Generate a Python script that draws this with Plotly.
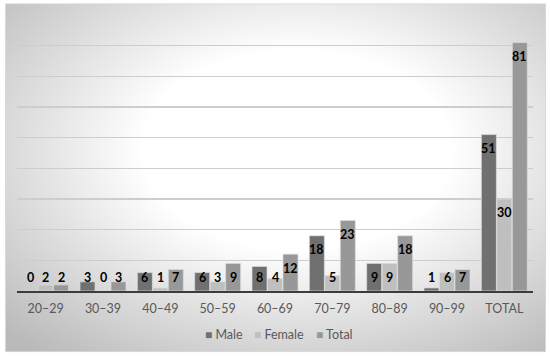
import base64
import plotly.graph_objects as go

categories = ["20–29", "30–39", "40–49", "50–59", "60–69", "70–79", "80–89", "90–99", "TOTAL"]
male = [0, 3, 6, 6, 8, 18, 9, 1, 51]
female = [2, 0, 1, 3, 4, 5, 9, 6, 30]
total = [2, 3, 7, 9, 12, 23, 18, 7, 81]
series_names = ["Male", "Female", "Total"]
series_colors = ["#707070", "#bfbfbf", "#989898"]

W, H = 550, 358
L, R, T, B = 17, 17, 15, 67
pw, ph = W - L - R, H - T - B

def px_to_paper_x(px):
    return (px - L) / pw

def px_to_paper_y(py):
    return (H - B - py) / ph

# background panel with radial gradient
svg = (
    "<svg xmlns='http://www.w3.org/2000/svg' width='541' height='349' viewBox='0 0 541 349' "
    "preserveAspectRatio='none'><defs><radialGradient id='g' cx='0.54' cy='0.42' r='0.75'>"
    "<stop offset='0' stop-color='#ffffff'/><stop offset='0.38' stop-color='#ffffff'/>"
    "<stop offset='1' stop-color='#bababa'/></radialGradient></defs>"
    "<rect x='0.5' y='0.5' width='540' height='348' fill='url(#g)' stroke='#d8d8d8' stroke-width='1'/></svg>"
)
src = "data:image/svg+xml;base64," + base64.b64encode(svg.encode()).decode()

fig = go.Figure()
for name, vals, col in zip(series_names, [male, female, total], series_colors):
    fig.add_trace(go.Bar(
        x=categories, y=vals, name=name,
        marker=dict(color=col, line=dict(color="#dedede", width=0.7)),
        hoverinfo="skip", showlegend=False,
    ))

# data labels
offsets = [-15.5, 0, 15.5]
annotations = []
for vals, off in zip([male, female, total], offsets):
    for c, v in zip(categories, vals):
        annotations.append(dict(
            x=c, y=max(v - 4.5, 4.4), xref="x", yref="y", text=str(v),
            showarrow=False, xshift=off, yanchor="middle",
            font=dict(family="Lato", size=12.5, color="#000000", weight="bold"),
        ))

# legend
leg_x = [202.5, 252, 313.5]
for name, col, lx in zip(series_names, series_colors, leg_x):
    annotations.append(dict(
        x=px_to_paper_x(lx), y=px_to_paper_y(334), xref="paper", yref="paper",
        xanchor="left", yanchor="middle", showarrow=False,
        text=f"<span style='color:{col};font-size:12px'>■</span> {name}",
        font=dict(family="Lato", size=12.5, color="#595959"),
    ))

fig.update_layout(
    width=W, height=H,
    margin=dict(l=L, r=R, t=T, b=B),
    paper_bgcolor="#ffffff",
    plot_bgcolor="rgba(0,0,0,0)",
    barmode="group", bargap=0.19, bargroupgap=0.03,
    font=dict(family="Lato", size=12.5, color="#595959"),
    annotations=annotations,
    images=[dict(
        source=src, xref="paper", yref="paper",
        x=px_to_paper_x(5), y=px_to_paper_y(3.3),
        sizex=541 / pw, sizey=349 / ph,
        xanchor="left", yanchor="top", sizing="stretch", layer="below",
    )],
    xaxis=dict(showline=True, linecolor="#3c3c3c", linewidth=1.5, ticks="",
               ticklabelstandoff=5,
               tickfont=dict(family="Lato", size=12.5, color="#595959"), fixedrange=True),
    yaxis=dict(range=[0, 90], dtick=10, showticklabels=False, showgrid=True,
               gridcolor="#cdcdcd", gridwidth=1.5, zeroline=False, fixedrange=True),
)

fig.write_html(
    "out.html",
    config={"displayModeBar": False, "staticPlot": True},
    post_script="document.body.style.margin='0';document.body.style.overflow='hidden';",
)
